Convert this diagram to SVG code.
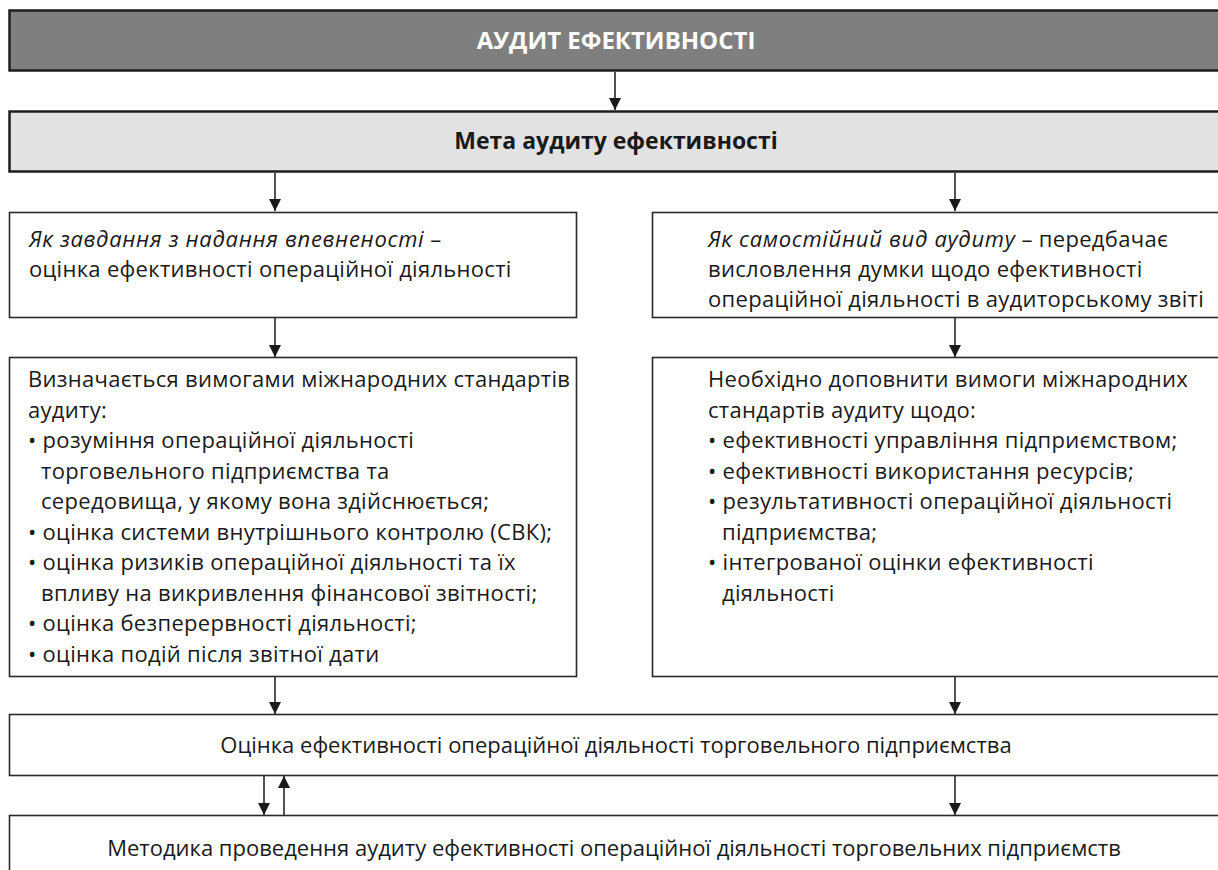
<svg xmlns="http://www.w3.org/2000/svg" width="1218" height="870" viewBox="0 0 1218 870">
<style>
.t{font-family:"Open Sans","Noto Sans","Liberation Sans",sans-serif;font-size:22px;fill:#1a1a1a}
.s{letter-spacing:0.3px}
.c{text-anchor:middle}
.b{font-weight:bold;font-size:23px}
.h{font-size:24px;fill:#fff}
.i{font-style:italic;letter-spacing:0.7px}
.box{fill:#fff;stroke:#2a2a2a;stroke-width:1.6}
.hdr{fill:#7f7f7f;stroke:#1e1e1e;stroke-width:2.5}
.sub{fill:#e2e2e2;stroke:#1e1e1e;stroke-width:2.5}
.con{stroke:#1a1a1a;stroke-width:1.5;fill:none;marker-end:url(#ah)}
</style>
<defs>
<marker id="ah" markerUnits="userSpaceOnUse" markerWidth="12" markerHeight="13" refX="12" refY="6" orient="auto">
<path d="M0,0 L12,6 L0,12 Z" fill="#1a1a1a"/>
</marker>
</defs>
<g id="connectors">
<line class="con" x1="615" y1="72" x2="615" y2="110"/>
<line class="con" x1="275" y1="173" x2="275" y2="211"/>
<line class="con" x1="955" y1="173" x2="955" y2="211"/>
<line class="con" x1="275" y1="318" x2="275" y2="357"/>
<line class="con" x1="955" y1="318" x2="955" y2="357"/>
<line class="con" x1="275" y1="677" x2="275" y2="714"/>
<line class="con" x1="955" y1="677" x2="955" y2="714"/>
<line class="con" x1="264" y1="776" x2="264" y2="815"/>
<line class="con" x1="284" y1="815" x2="284" y2="776"/>
<line class="con" x1="955" y1="776" x2="955" y2="815"/>
</g>
<g id="n1">
<rect class="hdr" x="9.5" y="10.5" width="1230" height="60"/>
<text class="t c b h" x="616" y="49">АУДИТ ЕФЕКТИВНОСТІ</text>
</g>
<g id="n2">
<rect class="sub" x="9.5" y="111.5" width="1230" height="60"/>
<text class="t c b" x="616" y="149">Мета аудиту ефективності</text>
</g>
<g id="n3">
<rect class="box" x="9.5" y="212.5" width="567" height="105"/>
<text class="t s" x="29" y="247"><tspan class="i">Як завдання з надання впевненості</tspan> –</text>
<text class="t s" x="29" y="277">оцінка ефективності операційної діяльності</text>
</g>
<g id="n4">
<rect class="box" x="652.5" y="212.5" width="580" height="105"/>
<text class="t s" x="708" y="247"><tspan class="i">Як самостійний вид аудиту</tspan> – передбачає</text>
<text class="t s" x="708" y="277">висловлення думки щодо ефективності</text>
<text class="t s" x="708" y="307">операційної діяльності в аудиторському звіті</text>
</g>
<g id="n5">
<rect class="box" x="9.5" y="357.5" width="567" height="319"/>
<text class="t s" x="28" y="387">Визначається вимогами міжнародних стандартів</text>
<text class="t s" x="28" y="417.5">аудиту:</text>
<text class="t s" x="28" y="448">• розуміння операційної діяльності</text>
<text class="t s" x="41" y="478.5">торговельного підприємства та</text>
<text class="t s" x="41" y="509">середовища, у якому вона здійснюється;</text>
<text class="t s" x="28" y="539.5">• оцінка системи внутрішнього контролю (СВК);</text>
<text class="t s" x="28" y="570">• оцінка ризиків операційної діяльності та їх</text>
<text class="t s" x="41" y="600.5">впливу на викривлення фінансової звітності;</text>
<text class="t s" x="28" y="631">• оцінка безперервності діяльності;</text>
<text class="t s" x="28" y="661.5">• оцінка подій після звітної дати</text>
</g>
<g id="n6">
<rect class="box" x="652.5" y="357.5" width="580" height="319"/>
<text class="t s" x="708" y="387">Необхідно доповнити вимоги міжнародних</text>
<text class="t s" x="708" y="417.5">стандартів аудиту щодо:</text>
<text class="t s" x="708" y="448">• ефективності управління підприємством;</text>
<text class="t s" x="708" y="478.5">• ефективності використання ресурсів;</text>
<text class="t s" x="708" y="509">• результативності операційної діяльності</text>
<text class="t s" x="722" y="539.5">підприємства;</text>
<text class="t s" x="708" y="570">• інтегрованої оцінки ефективності</text>
<text class="t s" x="722" y="600.5">діяльності</text>
</g>
<g id="n7">
<rect class="box" x="9.5" y="714.5" width="1230" height="61"/>
<text class="t c" x="616" y="753">Оцінка ефективності операційної діяльності торговельного підприємства</text>
</g>
<g id="n8">
<rect class="box" x="9.5" y="815.5" width="1230" height="80"/>
<text class="t c" x="614" y="856">Методика проведення аудиту ефективності операційної діяльності торговельних підприємств</text>
</g>
</svg>
